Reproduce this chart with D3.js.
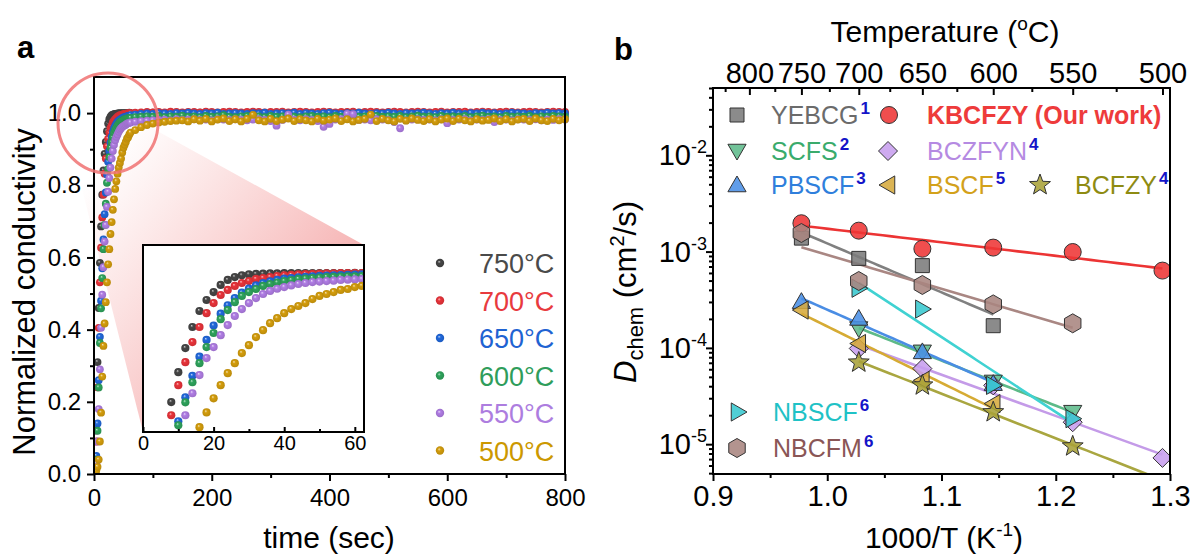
<!DOCTYPE html>
<html>
<head>
<meta charset="utf-8">
<script src="https://cdn.jsdelivr.net/npm/d3@7/dist/d3.min.js"></script>
<style>
html,body{margin:0;padding:0;background:#fff;}
svg{display:block;font-family:Arial,"Liberation Sans",Helvetica,sans-serif;}
</style>
</head>
<body>
<svg id="fig" width="1194" height="557"></svg>
<script>
// ================= Panel a: conductivity relaxation =================
const relaxLabels = ["750°C", "700°C", "650°C", "600°C", "550°C", "500°C"];

// sampling instants (s): dense at the start, sparser on the plateau
const timeEarly = [0,2,4,6,8,10,12,14,16,18,20,22,24,26,28,30,32,34,36,38,40,42,44,46,48,50,52,54,56,58,60,62];
const timeLate = [70,80,90,100,110,120,130,140,150,160,170,180,190,200,210,220,230,240,250,260,
  270,280,290,300,310,320,330,340,350,360,370,380,390,400,410,420,430,440,450,460,
  470,480,490,500,510,520,530,540,550,560,570,580,590,600,610,620,630,640,650,660,
  670,680,690,700,710,720,730,740,750,760,770,780,790,800];

const cond750 = [0.000,0.030,0.120,0.310,0.460,0.585,0.686,0.774,0.841,0.887,0.920,0.950,0.971,0.983,0.990,0.994,0.996,0.997,0.998,0.998,0.999,0.999,1.000,0.999,1.000,1.000,0.999,1.000,1.000,1.000,1.001,1.000,
  0.999,1.000,0.999,1.001,1.000,0.999,1.000,1.001,1.000,0.999,
  1.000,1.001,0.999,1.000,1.000,0.999,1.001,1.000,0.999,1.000,
  1.001,1.000,0.999,1.000,1.001,1.000,0.999,1.000,1.000,1.001,
  0.999,1.000,1.001,1.000,0.999,1.000,1.001,0.999,1.000,1.000,
  1.001,0.999,1.000,1.000,1.001,0.999,1.000,1.001,1.000,0.999,
  1.000,1.001,1.000,0.999,1.000,1.001,1.000,0.999,1.000,1.001,
  1.000,0.999,1.000,1.001,1.000,1.000,0.999,1.001,1.000,0.999,
  1.000,1.001,1.000,1.000];
const cond700 = [0.000,0.020,0.090,0.240,0.405,0.531,0.627,0.711,0.774,0.832,0.874,0.908,0.929,0.946,0.958,0.966,0.975,0.979,0.983,0.987,0.990,0.992,0.994,0.995,0.996,0.997,0.998,0.998,0.999,0.999,1.000,1.000,
  1.001,1.002,1.003,1.002,1.003,1.002,1.004,1.003,1.002,1.003,
  1.003,1.002,1.004,1.003,1.002,1.003,1.004,1.003,1.002,1.003,
  1.004,1.003,1.002,1.003,1.003,1.004,1.002,1.003,1.004,1.003,
  1.002,1.003,1.004,1.003,1.002,1.003,1.003,1.004,1.002,1.003,
  1.004,1.003,1.002,1.003,1.004,1.003,1.002,1.003,1.004,1.003,
  1.002,1.003,1.004,1.002,1.003,1.003,1.004,1.002,1.003,1.004,
  1.003,1.002,1.003,1.004,1.003,1.002,1.003,1.004,1.003,1.002,
  1.003,1.004,1.003,1.003];
const cond650 = [0.000,0.010,0.050,0.140,0.260,0.380,0.480,0.570,0.650,0.720,0.780,0.830,0.865,0.895,0.918,0.935,0.948,0.958,0.965,0.971,0.976,0.979,0.982,0.984,0.986,0.988,0.989,0.990,0.991,0.992,0.993,0.994,
  0.996,0.998,0.999,0.998,1.000,0.999,0.998,1.000,0.999,1.001,
  0.999,0.998,1.000,0.999,1.001,0.998,0.999,1.000,0.999,0.998,
  1.000,0.999,1.001,0.998,0.999,1.000,0.999,1.001,0.998,1.000,
  0.999,0.998,1.000,1.001,0.999,0.998,1.000,0.999,1.001,0.999,
  0.998,1.000,0.999,1.001,0.999,0.998,1.000,0.999,1.000,1.001,
  0.999,0.998,1.000,0.999,1.001,0.999,0.998,1.000,0.999,1.001,
  0.999,1.000,0.998,0.999,1.001,1.000,0.999,0.998,1.000,0.999,
  1.001,0.999,1.000,0.999];
const cond600 = [0.000,0.010,0.040,0.120,0.240,0.363,0.459,0.543,0.623,0.690,0.749,0.807,0.845,0.878,0.904,0.920,0.933,0.946,0.954,0.960,0.966,0.970,0.975,0.977,0.979,0.981,0.983,0.984,0.985,0.986,0.986,0.987,
  0.989,0.990,0.991,0.990,0.992,0.989,0.991,0.990,0.993,0.990,
  0.991,0.989,0.992,0.990,0.991,0.994,0.990,0.989,0.991,0.992,
  0.990,0.991,0.989,0.992,0.990,0.991,0.993,0.990,0.989,0.991,
  0.992,0.990,0.991,0.989,0.992,0.990,0.991,0.994,0.990,0.991,
  0.989,0.992,0.990,0.991,0.990,0.992,0.989,0.991,0.993,0.990,
  0.991,0.989,0.992,0.990,0.991,0.990,0.992,0.989,0.991,0.993,
  0.990,0.991,0.989,0.992,0.990,0.991,0.990,0.992,0.989,0.991,
  0.990,0.992,0.991,0.990];
const cond550 = [0.000,0.010,0.030,0.090,0.180,0.290,0.405,0.497,0.573,0.644,0.690,0.740,0.782,0.820,0.849,0.874,0.895,0.912,0.925,0.934,0.941,0.948,0.954,0.958,0.962,0.964,0.966,0.968,0.971,0.972,0.973,0.974,
  0.976,0.978,0.979,0.980,0.981,0.982,0.980,0.983,0.981,0.982,
  0.983,0.981,0.982,0.980,0.983,0.982,0.981,0.983,0.982,0.980,
  0.982,0.983,0.981,0.978,0.965,0.981,0.996,0.982,0.980,0.983,
  0.981,0.978,0.962,0.970,0.982,0.983,0.998,0.997,0.981,0.982,
  0.980,0.983,0.982,0.981,0.975,0.958,0.980,0.982,0.983,0.981,
  0.982,0.980,0.983,0.972,0.981,0.982,0.983,0.980,0.982,0.981,
  0.983,0.975,0.981,0.982,0.980,0.983,0.982,0.981,0.983,0.980,
  0.982,0.981,0.983,0.982];
const cond500 = [0.000,0.005,0.010,0.020,0.040,0.090,0.170,0.270,0.355,0.417,0.476,0.531,0.581,0.623,0.665,0.698,0.732,0.761,0.790,0.811,0.832,0.849,0.862,0.874,0.891,0.904,0.912,0.920,0.929,0.933,0.941,0.946,
  0.953,0.961,0.967,0.971,0.974,0.976,0.978,0.979,0.980,0.977,
  0.983,0.979,0.984,0.977,0.982,0.985,0.978,0.983,0.977,0.984,
  0.995,0.980,0.977,0.984,0.978,0.982,0.985,0.978,0.983,0.980,
  0.977,0.984,0.979,0.982,0.985,0.978,0.983,0.977,0.981,0.984,
  0.996,0.978,0.984,0.980,0.977,0.984,0.979,0.985,0.981,0.978,
  0.983,0.977,0.982,0.985,0.978,0.984,0.980,0.977,0.983,0.979,
  0.981,0.985,0.978,0.983,0.977,0.982,0.984,0.978,0.985,0.980,
  0.978,0.984,0.980,0.983];

const timeTicksA = [0, 200, 400, 600, 800];
const condTicksA = [0, 0.2, 0.4, 0.6, 0.8, 1.0];
const insetTicks = [0, 20, 40, 60];

// ================= Panel b: chemical diffusion coefficients =================
const arrheniusTemps = [750, 700, 650, 600, 550, 500];           // °C
const dKBCFZY = [1.97e-3, 1.65e-3, 1.07e-3, 1.10e-3, 0.99e-3, 6.35e-4];
const dYEBCG  = [1.38e-3, 8.5e-4, 7.15e-4, 1.70e-4, null, null];
const dSCFS   = [null, 1.59e-4, 9.1e-5, 4.43e-5, 2.15e-5, null];
const dBCZFYN = [null, 9.86e-5, 6.1e-5, 4.08e-5, 1.69e-5, 7.2e-6];
const dPBSCF  = [3.02e-4, 2.02e-4, 9.08e-5, 4.25e-5, null, null];
const dBSCF   = [2.47e-4, 1.11e-4, 4.6e-5, 2.64e-5, null, null];
const dBCFZY  = [null, 7.05e-5, 4.08e-5, 2.15e-5, 9.5e-6, null];
const dNBSCF  = [null, 4.16e-4, 2.53e-4, 4.08e-5, 1.84e-5, null];
const dNBCFM  = [1.56e-3, 4.95e-4, 4.5e-4, 2.83e-4, 1.8e-4, null];

const tempTicksTop = [800, 750, 700, 650, 600, 550, 500];
const tempMinorTop = [825, 775, 725, 675, 625, 575, 525];
const invTTicks = [0.9, 1.0, 1.1, 1.2, 1.3];
const invTMinor = [0.95, 1.05, 1.15, 1.25];
const dExponents = [-5, -4, -3, -2];

// ================= drawing =================
const svg = d3.select("#fig");
const defs = svg.append("defs");
const BLACK = "#000";

// shaded "ball" fill for the relaxation markers
function ballGradient(id, color) {
  const g = defs.append("radialGradient").attr("id", id)
    .attr("cx", "50%").attr("cy", "50%").attr("r", "50%").attr("fx", "38%").attr("fy", "32%");
  g.append("stop").attr("offset", "0%").attr("stop-color", d3.interpolateRgb(color, "#ffffff")(0.7));
  g.append("stop").attr("offset", "35%").attr("stop-color", color);
  g.append("stop").attr("offset", "100%").attr("stop-color", d3.color(color).darker(0.35).formatHex());
}

const seriesA = [
  { label: relaxLabels[0], values: cond750, color: "#454545", text: "#4a4a4a" },
  { label: relaxLabels[1], values: cond700, color: "#e8333a", text: "#e83a3e" },
  { label: relaxLabels[2], values: cond650, color: "#2168db", text: "#1f63d2" },
  { label: relaxLabels[3], values: cond600, color: "#2ea35c", text: "#2f9d5b" },
  { label: relaxLabels[4], values: cond550, color: "#b07de4", text: "#ad7ddf" },
  { label: relaxLabels[5], values: cond500, color: "#d49d0c", text: "#cc9800" }
];
const timeAll = timeEarly.concat(timeLate);
seriesA.forEach((s, i) => {
  ballGradient("ball" + i, s.color);
  s.points = s.values.map((v, k) => ({ t: timeAll[k], v: v }));
});

const boxA = { l: 94, r: 565, t: 77, b: 474 };
const xA = d3.scaleLinear().domain([0, 800]).range([boxA.l, boxA.r]);
const yA = d3.scaleLinear().domain([0, 1.1]).range([boxA.b, boxA.t]);

const boxIn = { l: 143, r: 364, t: 245, b: 432 };
const xIn = d3.scaleLinear().domain([0, 62.6]).range([boxIn.l, boxIn.r]);
const yIn = d3.scaleLinear().domain([0.335, 1.117]).range([boxIn.b, boxIn.t]);

defs.append("clipPath").attr("id", "clipA").append("rect")
  .attr("x", boxA.l).attr("y", boxA.t - 4).attr("width", boxA.r - boxA.l + 4).attr("height", boxA.b - boxA.t + 4);
defs.append("clipPath").attr("id", "clipIn").append("rect")
  .attr("x", boxIn.l).attr("y", boxIn.t).attr("width", boxIn.r - boxIn.l).attr("height", boxIn.b - boxIn.t);

// zoom cone from the highlighted region to the inset
const cone = defs.append("linearGradient").attr("id", "cone").attr("gradientUnits", "userSpaceOnUse")
  .attr("x1", 110).attr("y1", 150).attr("x2", 330).attr("y2", 330);
cone.append("stop").attr("offset", 0).attr("stop-color", "#f6a5a5").attr("stop-opacity", 0);
cone.append("stop").attr("offset", 1).attr("stop-color", "#f29696").attr("stop-opacity", 0.8);
svg.append("polygon").attr("points", "150,127 364,245 143,432 76,165").attr("fill", "url(#cone)");

// main relaxation curves
const gA = svg.append("g").attr("clip-path", "url(#clipA)");
seriesA.forEach((s, i) => {
  gA.append("g").selectAll("circle").data(s.points).join("circle")
    .attr("cx", d => xA(d.t)).attr("cy", d => yA(d.v)).attr("r", 3.9)
    .attr("fill", `url(#ball${i})`);
});

// axes of panel a
function styleAxis(g, size) {
  g.select(".domain").remove();
  g.selectAll("line").attr("stroke", BLACK).attr("stroke-width", 2);
  g.selectAll("text").attr("font-size", size).attr("fill", BLACK).attr("font-family", null);
}
svg.append("g").attr("transform", `translate(0,${boxA.b})`)
  .call(d3.axisBottom(xA).tickValues(timeTicksA).tickFormat(d3.format("d")).tickSize(7).tickPadding(8))
  .call(g => styleAxis(g, 24));
svg.append("g").attr("transform", `translate(0,${boxA.b})`)
  .call(d3.axisBottom(xA).tickValues([100, 300, 500, 700]).tickFormat("").tickSize(4))
  .call(g => styleAxis(g, 24));
svg.append("g").attr("transform", `translate(${boxA.l},0)`)
  .call(d3.axisLeft(yA).tickValues(condTicksA).tickFormat(d3.format(".1f")).tickSize(7).tickPadding(6))
  .call(g => styleAxis(g, 24));
svg.append("g").attr("transform", `translate(${boxA.l},0)`)
  .call(d3.axisLeft(yA).tickValues([0.1, 0.3, 0.5, 0.7, 0.9]).tickFormat("").tickSize(4))
  .call(g => styleAxis(g, 24));
svg.append("rect").attr("x", boxA.l).attr("y", boxA.t).attr("width", boxA.r - boxA.l).attr("height", boxA.b - boxA.t)
  .attr("fill", "none").attr("stroke", BLACK).attr("stroke-width", 2);

// inset: first minute of the relaxation
svg.append("rect").attr("x", boxIn.l).attr("y", boxIn.t).attr("width", boxIn.r - boxIn.l).attr("height", boxIn.b - boxIn.t)
  .attr("fill", "#fff");
const gIn = svg.append("g").attr("clip-path", "url(#clipIn)");
seriesA.forEach((s, i) => {
  gIn.append("g").selectAll("circle").data(s.points.filter(d => d.t <= 64)).join("circle")
    .attr("cx", d => xIn(d.t)).attr("cy", d => yIn(d.v)).attr("r", 4.1)
    .attr("fill", `url(#ball${i})`);
});
svg.append("g").attr("transform", `translate(0,${boxIn.b})`)
  .call(d3.axisBottom(xIn).tickValues(insetTicks).tickFormat(d3.format("d")).tickSize(-5).tickPadding(4))
  .call(g => styleAxis(g, 20));
svg.append("g").attr("transform", `translate(0,${boxIn.b})`)
  .call(d3.axisBottom(xIn).tickValues([10, 30, 50]).tickFormat("").tickSize(-3))
  .call(g => styleAxis(g, 20));
svg.append("rect").attr("x", boxIn.l).attr("y", boxIn.t).attr("width", boxIn.r - boxIn.l).attr("height", boxIn.b - boxIn.t)
  .attr("fill", "none").attr("stroke", BLACK).attr("stroke-width", 2);

// highlight ring around the fast rise
svg.append("circle").attr("cx", 108).attr("cy", 123).attr("r", 50)
  .attr("fill", "none").attr("stroke", "#f07272").attr("stroke-width", 3).attr("opacity", 0.85);

// legend a
const legA = svg.append("g");
seriesA.forEach((s, i) => {
  const y = 263 + i * 37.5;
  legA.append("circle").attr("cx", 440).attr("cy", y).attr("r", 4.2).attr("fill", `url(#ball${i})`);
  legA.append("text").attr("x", 479).attr("y", y + 10).attr("font-size", 27).attr("fill", s.text).text(s.label);
});

// titles a
svg.append("text").attr("x", 17).attr("y", 58).attr("font-size", 31).attr("font-weight", "bold").text("a");
svg.append("text").attr("transform", "translate(35,292) rotate(-90)").attr("text-anchor", "middle")
  .attr("font-size", 31).text("Normalized conductivity");
svg.append("text").attr("x", 329).attr("y", 548).attr("text-anchor", "middle").attr("font-size", 30).text("time (sec)");

// ---------------- panel b ----------------
const invT = T => 1000 / (T + 273.15);
const boxB = { l: 713, r: 1170, t: 88, b: 474 };
const xB = d3.scaleLinear().domain([0.9, 1.3]).range([boxB.l, boxB.r]);
const yB = d3.scaleLog().domain([4.9e-6, 0.05]).range([boxB.b, boxB.t]);

defs.append("clipPath").attr("id", "clipB").append("rect")
  .attr("x", boxB.l).attr("y", boxB.t).attr("width", boxB.r - boxB.l).attr("height", boxB.b - boxB.t);

const materials = [
  { name: "YEBCG",  ref: "1", d: dYEBCG,  shape: "square",   fill: "#7b7b7b", line: "#808080", text: "#6b6b6b" },
  { name: "KBCFZY (Our work)", ref: "", d: dKBCFZY, shape: "circle", fill: "#ee3535", line: "#ec3434", text: "#ee3b3b", bold: true },
  { name: "SCFS",   ref: "2", d: dSCFS,   shape: "triDown",  fill: "#5fbb8b", line: "#5dba88", text: "#3aab6c" },
  { name: "BCZFYN", ref: "4", d: dBCZFYN, shape: "diamond",  fill: "#c79eee", line: "#c49be8", text: "#b58ae2" },
  { name: "PBSCF",  ref: "3", d: dPBSCF,  shape: "triUp",    fill: "#4a8fe6", line: "#4a8de4", text: "#2f7fdc" },
  { name: "BSCF",   ref: "5", d: dBSCF,   shape: "triLeft",  fill: "#d6aa3c", line: "#d6ab34", text: "#d3a11a" },
  { name: "BCFZY",  ref: "4", d: dBCFZY,  shape: "star",     fill: "#a9a238", line: "#a9a640", text: "#8e8b12", fitEnd: 500 },
  { name: "NBSCF",  ref: "6", d: dNBSCF,  shape: "triRight", fill: "#38c8cf", line: "#40d2d2", text: "#1fc2c6" },
  { name: "NBCFM",  ref: "6", d: dNBCFM,  shape: "hexagon",  fill: "#a8857f", line: "#a98783", text: "#8a5656" }
];

function markerPath(shape) {
  const poly = pts => "M" + pts.map(p => p[0].toFixed(2) + "," + p[1].toFixed(2)).join("L") + "Z";
  const reg = (n, R, a0) => d3.range(n).map(i => {
    const a = a0 + i * 2 * Math.PI / n; return [R * Math.cos(a), R * Math.sin(a)];
  });
  switch (shape) {
    case "circle": return d3.symbol(d3.symbolCircle, Math.PI * 8.5 * 8.5)();
    case "square": return poly([[-7, -7], [7, -7], [7, 7], [-7, 7]]);
    case "triUp": return poly(reg(3, 10.5, -Math.PI / 2).map(p => [p[0], p[1] + 1.5]));
    case "triDown": return poly(reg(3, 10.5, Math.PI / 2).map(p => [p[0], p[1] - 1.5]));
    case "triLeft": return poly(reg(3, 10.5, Math.PI).map(p => [p[0] + 1.5, p[1]]));
    case "triRight": return poly(reg(3, 10.5, 0).map(p => [p[0] - 1.5, p[1]]));
    case "diamond": return poly(reg(4, 9.5, -Math.PI / 2));
    case "hexagon": return poly(reg(6, 9.5, -Math.PI / 2));
    case "star": {
      const pts = d3.range(10).map(i => {
        const R = i % 2 === 0 ? 11 : 4.6, a = -Math.PI / 2 + i * Math.PI / 5;
        return [R * Math.cos(a), R * Math.sin(a)];
      });
      return poly(pts);
    }
  }
}

// least-squares line of log10(D) against 1000/T
function logFit(pts) {
  const mx = d3.mean(pts, p => p.x), my = d3.mean(pts, p => Math.log10(p.d));
  const sxy = d3.sum(pts, p => (p.x - mx) * (Math.log10(p.d) - my));
  const sxx = d3.sum(pts, p => (p.x - mx) * (p.x - mx));
  const k = sxy / sxx;
  return x => Math.pow(10, my + k * (x - mx));
}

materials.forEach(m => {
  m.points = arrheniusTemps.map((T, i) => ({ x: invT(T), d: m.d[i] })).filter(p => p.d != null);
  const f = logFit(m.points);
  const x0 = d3.min(m.points, p => p.x);
  const x1 = m.fitEnd ? invT(m.fitEnd) : d3.max(m.points, p => p.x);
  m.fitLine = d3.range(0, 41).map(i => { const x = x0 + (x1 - x0) * i / 40; return { x: x, d: f(x) }; });
});

const gB = svg.append("g").attr("clip-path", "url(#clipB)");
const lineB = d3.line().x(p => xB(p.x)).y(p => yB(p.d));
materials.forEach(m => {
  gB.append("path").attr("d", lineB(m.fitLine)).attr("fill", "none")
    .attr("stroke", m.line).attr("stroke-width", 2.6);
});
materials.forEach(m => {
  gB.append("g").selectAll("path").data(m.points).join("path")
    .attr("transform", p => `translate(${xB(p.x)},${yB(p.d)})`)
    .attr("d", markerPath(m.shape))
    .attr("fill", m.fill).attr("fill-opacity", 0.88)
    .attr("stroke", "#333").attr("stroke-width", 1);
});

// axes of panel b
svg.append("g").attr("transform", `translate(0,${boxB.b})`)
  .call(d3.axisBottom(xB).tickValues(invTTicks).tickFormat(d3.format(".1f")).tickSize(7).tickPadding(4))
  .call(g => styleAxis(g, 29));
svg.append("g").attr("transform", `translate(0,${boxB.b})`)
  .call(d3.axisBottom(xB).tickValues(invTMinor).tickFormat("").tickSize(4))
  .call(g => styleAxis(g, 29));
svg.append("g").attr("transform", `translate(0,${boxB.t})`)
  .call(d3.axisTop(xB).tickValues(tempTicksTop.map(invT))
    .tickFormat((d, i) => tempTicksTop[i]).tickSize(-7).tickPadding(5))
  .call(g => styleAxis(g, 29));
svg.append("g").attr("transform", `translate(0,${boxB.t})`)
  .call(d3.axisTop(xB).tickValues(tempMinorTop.map(invT).filter(v => v >= 0.9 && v <= 1.3)).tickFormat("").tickSize(-4))
  .call(g => styleAxis(g, 29));

const dMajor = dExponents.map(e => Math.pow(10, e));
const dMinor = [];
[-6, -5, -4, -3, -2].forEach(e => { for (let m = 2; m <= 9; m++) dMinor.push(m * Math.pow(10, e)); });
svg.append("g").attr("transform", `translate(${boxB.l},0)`)
  .call(d3.axisLeft(yB).tickValues(dMajor).tickFormat("").tickSize(7))
  .call(g => styleAxis(g, 29));
svg.append("g").attr("transform", `translate(${boxB.l},0)`)
  .call(d3.axisLeft(yB).tickValues(dMinor.filter(v => v >= 4.9e-6 && v <= 0.05)).tickFormat("").tickSize(4))
  .call(g => styleAxis(g, 29));
dExponents.forEach(e => {
  const t = svg.append("text").attr("x", 707).attr("y", yB(Math.pow(10, e)) + 10)
    .attr("text-anchor", "end").attr("font-size", 29);
  t.append("tspan").text("10");
  t.append("tspan").attr("font-size", 18).attr("dy", -12).text("-" + Math.abs(e));
});
svg.append("rect").attr("x", boxB.l).attr("y", boxB.t).attr("width", boxB.r - boxB.l).attr("height", boxB.b - boxB.t)
  .attr("fill", "none").attr("stroke", BLACK).attr("stroke-width", 2);

// legend b
const legendSpots = [
  { m: 0, mx: 737, tx: 771, y: 115 },
  { m: 1, mx: 889, tx: 927, y: 115 },
  { m: 2, mx: 737, tx: 771, y: 151 },
  { m: 3, mx: 888, tx: 927, y: 151 },
  { m: 4, mx: 737, tx: 771, y: 185 },
  { m: 5, mx: 888, tx: 927, y: 185 },
  { m: 6, mx: 1040, tx: 1075, y: 185 },
  { m: 7, mx: 738, tx: 773, y: 412 },
  { m: 8, mx: 737, tx: 773, y: 448 }
];
legendSpots.forEach(s => {
  const m = materials[s.m];
  svg.append("path").attr("transform", `translate(${s.mx},${s.y})`).attr("d", markerPath(m.shape))
    .attr("fill", m.fill).attr("fill-opacity", 0.88).attr("stroke", "#333").attr("stroke-width", 1);
  const t = svg.append("text").attr("x", s.tx).attr("y", s.y + 9).attr("font-size", 25)
    .attr("fill", m.text).attr("font-weight", m.bold ? "bold" : null);
  t.append("tspan").text(m.name);
  if (m.ref) t.append("tspan").attr("font-size", 17).attr("font-weight", "bold").attr("fill", "#1414c8")
    .attr("dx", 2).attr("dy", -10).text(m.ref);
});

// titles b
svg.append("text").attr("x", 614).attr("y", 60).attr("font-size", 31).attr("font-weight", "bold").text("b");
const tTop = svg.append("text").attr("x", 945).attr("y", 42).attr("text-anchor", "middle").attr("font-size", 30);
tTop.append("tspan").text("Temperature (");
tTop.append("tspan").attr("font-size", 19).attr("dy", -12).text("o");
tTop.append("tspan").attr("dy", 12).text("C)");
const tBot = svg.append("text").attr("x", 944).attr("y", 548).attr("text-anchor", "middle").attr("font-size", 30);
tBot.append("tspan").text("1000/T (K");
tBot.append("tspan").attr("font-size", 19).attr("dy", -12).text("-1");
tBot.append("tspan").attr("dy", 12).text(")");
const tLeft = svg.append("text").attr("transform", "translate(636,292) rotate(-90)")
  .attr("text-anchor", "middle").attr("font-size", 31);
tLeft.append("tspan").attr("font-style", "italic").text("D");
tLeft.append("tspan").attr("font-size", 22).attr("dy", 7).text("chem");
tLeft.append("tspan").attr("dy", -7).text(" (cm");
tLeft.append("tspan").attr("font-size", 20).attr("dy", -12).text("2");
tLeft.append("tspan").attr("dy", 12).text("/s)");
</script>
</body>
</html>
